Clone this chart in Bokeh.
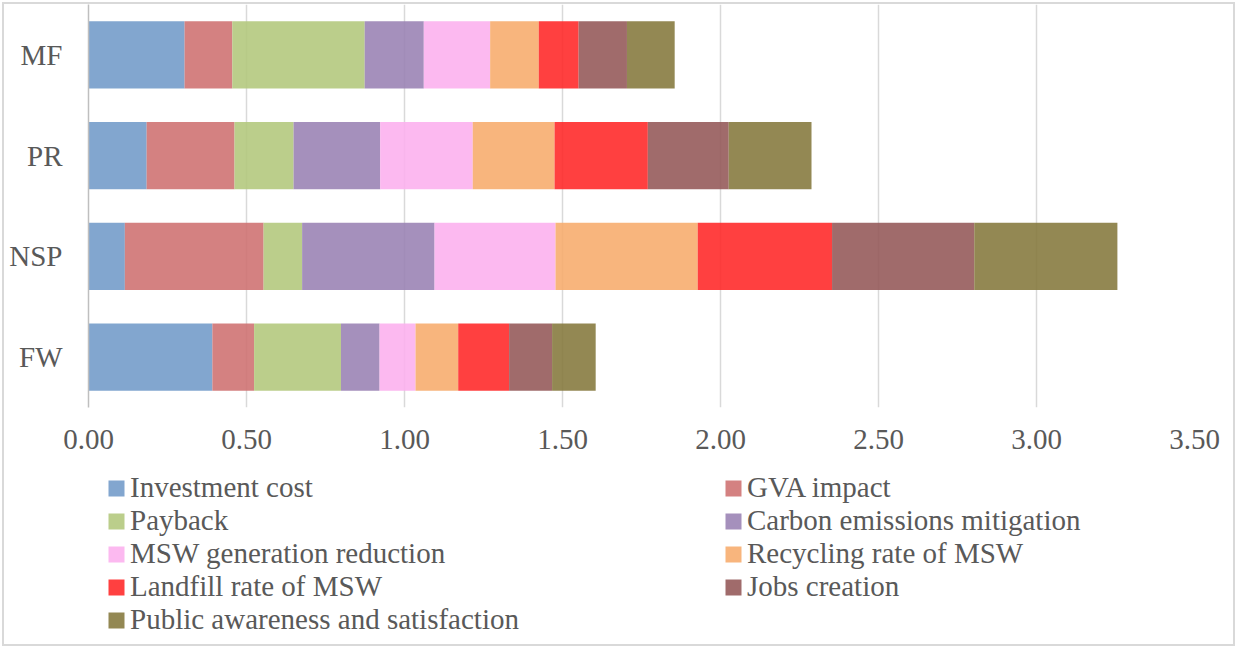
from bokeh.plotting import figure
from bokeh.layouts import column
from bokeh.models import (ColumnDataSource, Range1d, FactorRange, Legend, LegendItem,
                          FixedTicker, CustomJSTickFormatter)
from bokeh.embed import file_html
from bokeh.resources import INLINE

# Categories, bottom to top
categories = ["FW", "NSP", "PR", "MF"]

# Scores per criterion, one value per category (FW, NSP, PR, MF)
investment_cost = [0.392, 0.115, 0.184, 0.304]
gva_impact = [0.132, 0.439, 0.278, 0.151]
payback = [0.275, 0.122, 0.187, 0.419]
carbon_mitigation = [0.122, 0.419, 0.274, 0.187]
msw_generation_reduction = [0.114, 0.383, 0.293, 0.210]
recycling_rate = [0.135, 0.450, 0.259, 0.154]
landfill_rate = [0.161, 0.425, 0.295, 0.126]
jobs_creation = [0.136, 0.450, 0.256, 0.153]
public_awareness = [0.138, 0.453, 0.262, 0.151]

series_names = ["Investment cost", "GVA impact", "Payback", "Carbon emissions mitigation",
                "MSW generation reduction", "Recycling rate of MSW", "Landfill rate of MSW",
                "Jobs creation", "Public awareness and satisfaction"]
series_values = [investment_cost, gva_impact, payback, carbon_mitigation,
                 msw_generation_reduction, recycling_rate, landfill_rate,
                 jobs_creation, public_awareness]
colors = ["#719AC8", "#CE6F6F", "#B2C77B", "#9981B3", "#FCAFEE",
          "#F7AB6B", "#FF2626", "#935756", "#84783B"]

x_ticks = [0.0, 0.5, 1.0, 1.5, 2.0, 2.5, 3.0, 3.5]

keys = ["s%d" % i for i in range(len(series_names))]
data = {"cat": categories}
for k, vals in zip(keys, series_values):
    data[k] = vals
source = ColumnDataSource(data)

FONT = "Liberation Serif"
TEXT_COLOR = "#595959"
W = 1237
CHART_H = 460
LEGEND_H = 188

# ---- stacked bar chart ----
p = figure(width=W, height=CHART_H, y_range=FactorRange(*categories, range_padding=0),
           x_range=Range1d(0, 3.5), output_backend="svg", toolbar_location=None,
           min_border_left=88, min_border_right=43, min_border_top=4, min_border_bottom=53)
p.outline_line_color = None
p.background_fill_color = None
p.border_fill_color = None

renderers = p.hbar_stack(keys, y="cat", height=0.667, color=colors, fill_alpha=0.88,
                         line_color=None, source=source)

p.xaxis.ticker = FixedTicker(ticks=x_ticks)
p.xaxis.formatter = CustomJSTickFormatter(code="return tick.toFixed(2);")
p.xaxis.axis_line_color = None
p.xaxis.major_tick_line_color = None
p.xaxis.minor_tick_line_color = None
p.xaxis.major_label_text_font = FONT
p.xaxis.major_label_text_font_size = "29px"
p.xaxis.major_label_text_color = TEXT_COLOR
p.xaxis.major_label_standoff = 16

p.yaxis.axis_line_color = "#bfbfbf"
p.yaxis.axis_line_width = 1.5
p.yaxis.major_tick_line_color = None
p.yaxis.minor_tick_line_color = None
p.yaxis.major_label_text_font = FONT
p.yaxis.major_label_text_font_size = "29px"
p.yaxis.major_label_text_color = TEXT_COLOR
p.yaxis.major_label_standoff = 20

p.xgrid.grid_line_color = "#d9d9d9"
p.xgrid.grid_line_width = 1.5
p.xgrid.ticker = FixedTicker(ticks=x_ticks)
p.ygrid.grid_line_color = None

# ---- legend panel (two columns, row-major order) ----
lf = figure(width=W, height=LEGEND_H, x_range=Range1d(0, 1), y_range=Range1d(0, 1),
            output_backend="svg", toolbar_location=None,
            min_border_left=0, min_border_right=0, min_border_top=0, min_border_bottom=0)
lf.axis.visible = False
lf.grid.visible = False
lf.outline_line_color = None
lf.background_fill_color = None
lf.border_fill_color = None

# one off-range bar per series so each legend swatch has a glyph to draw from
swatches = [lf.hbar(y=[-5], left=[-5], right=[-4], height=0.5, color=c, fill_alpha=0.88,
                    line_color=None)
            for c in colors]

ROW_H = 33
left_idx = list(range(0, 9, 2))
right_idx = list(range(1, 9, 2))
legend_top = 11  # distance from top of legend panel
for idx, xloc in ((left_idx, 18), (right_idx, 635)):
    items = [LegendItem(label=series_names[i], renderers=[swatches[i]]) for i in idx]
    bottom = LEGEND_H - legend_top - ROW_H * len(idx)
    lg = Legend(items=items, location=(xloc, bottom), orientation="vertical",
                margin=0, padding=0, spacing=0, label_height=ROW_H,
                glyph_width=20, glyph_height=20, label_standoff=4,
                label_text_font=FONT, label_text_font_size="29px",
                label_text_color=TEXT_COLOR, label_text_baseline="middle",
                border_line_color=None, background_fill_alpha=0)
    lf.add_layout(lg, "center")

layout = column(p, lf, spacing=0,
                styles={"outline": "2px solid #d9d9d9", "outline-offset": "-4px",
                        "background-color": "white"})

open("out.html", "w").write(file_html(layout, INLINE))
